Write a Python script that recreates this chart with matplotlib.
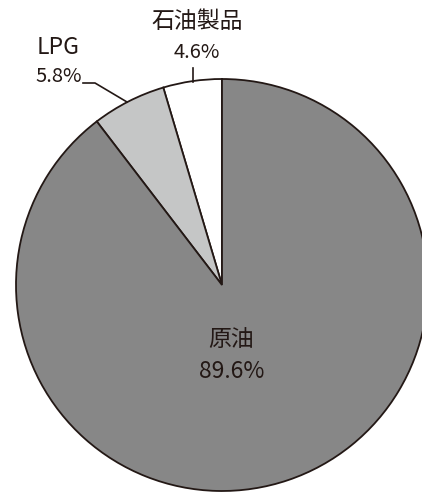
import matplotlib

matplotlib.use("Agg")

import matplotlib.pyplot as plt

plt.rcParams["font.family"] = ["Noto Sans CJK JP", "DejaVu Sans"]

labels = ["石油製品", "LPG", "原油"]
shares = [4.6, 5.8, 89.6]
colors = ["#ffffff", "#c5c6c6", "#878787"]
ink = "#231815"

W, H = 422, 492


def main():
    fig = plt.figure(figsize=(W / 100, H / 100), dpi=100)
    ax = fig.add_axes([0, 0, 1, 1])
    ax.axis("off")

    cx, cy, r = 222, H - 285, 206
    ax.pie(shares, colors=colors, startangle=90, counterclock=True,
           center=(cx, cy), radius=r, frame=True,
           wedgeprops=dict(edgecolor=ink, linewidth=1.3))
    ax.set_xlim(0, W)
    ax.set_ylim(0, H)
    ax.set_aspect("equal", adjustable="box")
    ax.axis("off")

    # outer labels with leader lines
    ax.text(197, H - 22, labels[0], ha="center", va="center", fontsize=16.5, color=ink)
    ax.text(197, H - 53, f"{shares[0]}%", ha="center", va="center", fontsize=14.5, color=ink)
    ax.plot([193, 193], [H - 68, H - 82], color=ink, lw=1.2)

    ax.text(58, H - 47, labels[1], ha="center", va="center", fontsize=16.5, color=ink)
    ax.text(59, H - 76, f"{shares[1]}%", ha="center", va="center", fontsize=14.5, color=ink)
    ax.plot([83, 95, 127], [H - 83, H - 83, H - 102], color=ink, lw=1.2)

    # label inside the big slice
    ax.text(231, H - 340, labels[2], ha="center", va="center", fontsize=16.5, color=ink)
    ax.text(232, H - 372, f"{shares[2]}%", ha="center", va="center", fontsize=16.5, color=ink)

    fig.savefig("out.png", dpi=100)
    plt.close(fig)


if __name__ == "__main__":
    main()
